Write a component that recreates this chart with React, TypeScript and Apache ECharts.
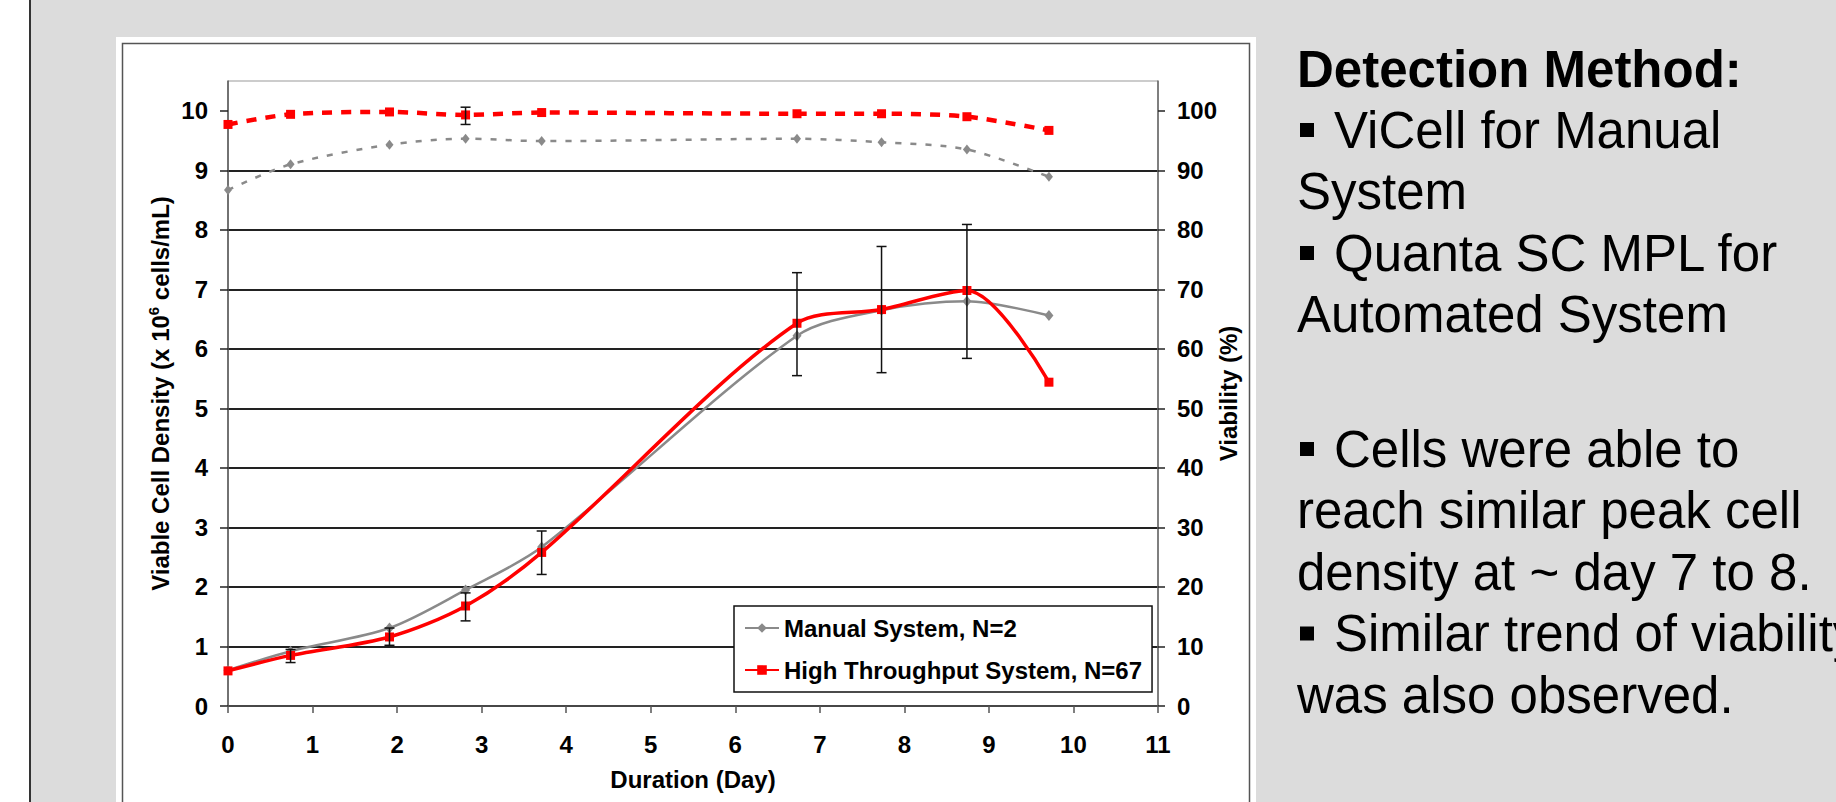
import React, { useEffect, useRef } from 'react';
import * as echarts from 'echarts';

// ---- data ----
const days = [0, 0.74, 1.91, 2.81, 3.71, 6.73, 7.73, 8.74, 9.71];
const manualVCD = [0.6, 0.92, 1.31, 1.95, 2.67, 6.22, 6.65, 6.8, 6.56];
const htVCD = [0.59, 0.85, 1.16, 1.68, 2.58, 6.43, 6.66, 6.98, 5.44];
const htVCDLow = [null, 0.73, 1.02, 1.43, 2.21, 5.55, 5.6, 5.84, null];
const htVCDHigh = [null, 0.95, 1.31, 1.9, 2.94, 7.28, 7.72, 8.09, null];
const manualViability = [86.7, 91.0, 94.3, 95.3, 94.9, 95.3, 94.7, 93.5, 88.9];
const htViability = [97.7, 99.4, 99.8, 99.3, 99.7, 99.5, 99.5, 99.0, 96.7];
const htViabilityLow = [null, null, null, 97.7, null, null, null, null, null];
const htViabilityHigh = [null, null, null, 100.6, null, null, null, null, null];

const vcdTicks = [0, 1, 2, 3, 4, 5, 6, 7, 8, 9, 10];
const viabilityTicks = [0, 10, 20, 30, 40, 50, 60, 70, 80, 90, 100];

const legendNames = ['Manual System, N=2', 'High Throughput System, N=67'];
const xTitle = 'Duration (Day)';
const rightTitle = 'Viability (%)';

const noteLines = [
  'Detection Method:',
  'ViCell for Manual',
  'System',
  'Quanta SC MPL for',
  'Automated System',
  'Cells were able to',
  'reach similar peak cell',
  'density at ~ day 7 to 8.',
  'Similar trend of viability',
  'was also observed.',
];
const noteBold = [true, false, false, false, false, false, false, false, false, false];
const noteBullet = [false, true, false, true, false, true, false, false, true, false];
const noteBaselines = [87, 148, 209.5, 271, 332.5, 467, 528.5, 590, 651.5, 713];

const FONT = '"Liberation Sans", Arial, Helvetica, sans-serif';

function errorData(low: (number | null)[], high: (number | null)[]) {
  const out: number[][] = [];
  days.forEach((d, i) => {
    const lo = low[i];
    const hi = high[i];
    if (lo != null && hi != null) out.push([d, lo, hi]);
  });
  return out;
}

const renderErrorBar = (params: any, api: any) => {
  const x = api.value(0);
  const lo = api.coord([x, api.value(1)]);
  const hi = api.coord([x, api.value(2)]);
  const w = 5;
  const style = { stroke: '#111', lineWidth: 1.5 };
  return {
    type: 'group',
    children: [
      { type: 'line', shape: { x1: lo[0], y1: lo[1], x2: hi[0], y2: hi[1] }, style },
      { type: 'line', shape: { x1: hi[0] - w, y1: hi[1], x2: hi[0] + w, y2: hi[1] }, style },
      { type: 'line', shape: { x1: lo[0] - w, y1: lo[1], x2: lo[0] + w, y2: lo[1] }, style },
    ],
  };
};

export default function App() {
  const ref = useRef<HTMLDivElement>(null);

  useEffect(() => {
    if (!ref.current) return;
    const chart = echarts.init(ref.current, undefined, { renderer: 'svg' });

    const labelStyle = { fontSize: 24, fontWeight: 'bold', color: '#000', fontFamily: FONT };

    const graphics: any[] = [
      { type: 'rect', z: -20, silent: true, shape: { x: 0, y: 0, width: 29, height: 802 }, style: { fill: '#ffffff' } },
      { type: 'rect', z: -19, silent: true, shape: { x: 29, y: 0, width: 2, height: 802 }, style: { fill: '#333333' } },
      { type: 'rect', z: -18, silent: true, shape: { x: 116, y: 37, width: 1140, height: 780 }, style: { fill: '#ffffff' } },
      {
        type: 'rect', z: -17, silent: true,
        shape: { x: 122.5, y: 43.5, width: 1127, height: 800 },
        style: { fill: 'none', stroke: '#555555', lineWidth: 1.5 },
      },
    ];

    noteLines.forEach((t, i) => {
      const base = noteBaselines[i];
      if (noteBullet[i]) {
        graphics.push({
          type: 'rect', z: 10, silent: true,
          shape: { x: 1300, y: base - 25, width: 14, height: 14 },
          style: { fill: '#000' },
        });
      }
      graphics.push({
        type: 'text', z: 10, silent: true,
        x: noteBullet[i] ? 1334 : 1297,
        y: base - 18,
        style: {
          text: t,
          fill: '#000',
          fontSize: 51,
          fontWeight: noteBold[i] ? 'bold' : 'normal',
          fontFamily: FONT,
          verticalAlign: 'middle',
          align: 'left',
        },
      });
    });

    const option: any = {
      animation: false,
      backgroundColor: '#dcdcdc',
      grid: {
        left: 228, top: 81, width: 930, height: 625,
        show: true, borderColor: '#999999', borderWidth: 1, backgroundColor: 'transparent',
      },
      legend: {
        data: legendNames,
        orient: 'vertical',
        left: 734,
        top: 606,
        backgroundColor: '#ffffff',
        borderColor: '#111111',
        borderWidth: 1.5,
        borderRadius: 0,
        padding: [10, 10, 10, 10],
        itemGap: 18,
        itemWidth: 34,
        itemHeight: 12,
        selectedMode: false,
        textStyle: { fontSize: 24, fontWeight: 'bold', color: '#000', fontFamily: FONT },
      },
      xAxis: {
        type: 'value', min: 0, max: 11, interval: 1,
        name: xTitle, nameLocation: 'middle', nameGap: 61, nameMoveOverlap: false,
        nameTextStyle: labelStyle,
        axisLine: { show: true, onZero: false, lineStyle: { color: '#555555', width: 1.5 } },
        axisTick: { show: true, inside: false, length: 7, lineStyle: { color: '#555555', width: 1.5 } },
        axisLabel: { ...labelStyle, margin: 26 },
        splitLine: { show: false },
      },
      yAxis: [
        {
          type: 'value', min: 0, max: 10.5, interval: 1, position: 'left',
          name: '{a|Viable Cell Density (x 10}{s|6}{a| cells/mL)}',
          nameLocation: 'middle', nameRotate: 90, nameGap: 54, nameMoveOverlap: false,
          nameTextStyle: {
            rich: {
              a: { fontSize: 24, fontWeight: 'bold', color: '#000', fontFamily: FONT, lineHeight: 28 },
              s: { fontSize: 15, fontWeight: 'bold', color: '#000', fontFamily: FONT, verticalAlign: 'top', lineHeight: 15 },
            },
          },
          axisLine: { show: true, onZero: false, lineStyle: { color: '#555555', width: 1.5 } },
          axisTick: { show: true, inside: false, length: 8, customValues: vcdTicks, lineStyle: { color: '#222222', width: 1.5 } },
          axisLabel: { ...labelStyle, margin: 20, showMaxLabel: false },
          splitLine: { show: true, showMaxLine: false, lineStyle: { color: '#222222', width: 1.8 } },
        },
        {
          type: 'value', min: 0, max: 105, interval: 10, position: 'right',
          name: rightTitle, nameLocation: 'middle', nameRotate: 90, nameGap: 58, nameMoveOverlap: false,
          nameTextStyle: labelStyle,
          axisLine: { show: true, onZero: false, lineStyle: { color: '#666666', width: 1.5 } },
          axisTick: { show: true, inside: false, length: 7, customValues: viabilityTicks, lineStyle: { color: '#222222', width: 1.5 } },
          axisLabel: { ...labelStyle, margin: 19, showMaxLabel: false },
          splitLine: { show: false },
        },
      ],
      series: [
        {
          name: legendNames[0], type: 'line', yAxisIndex: 0, z: 2,
          data: days.map((d, i) => [d, manualVCD[i]]),
          smooth: 0.3, symbol: 'diamond', symbolSize: [9, 11],
          lineStyle: { color: '#8a8a8a', width: 2.5 },
          itemStyle: { color: '#8a8a8a' },
        },
        {
          name: legendNames[1], type: 'line', yAxisIndex: 0, z: 3,
          data: days.map((d, i) => [d, htVCD[i]]),
          smooth: 0.3, symbol: 'rect', symbolSize: 9,
          lineStyle: { color: '#ff0000', width: 3.5 },
          itemStyle: { color: '#ff0000' },
        },
        {
          name: 'Manual Viability', type: 'line', yAxisIndex: 1, z: 2,
          data: days.map((d, i) => [d, manualViability[i]]),
          smooth: 0.3, symbol: 'diamond', symbolSize: [8, 10],
          lineStyle: { color: '#8a8a8a', width: 2.5, type: [6, 9] },
          itemStyle: { color: '#8a8a8a' },
        },
        {
          name: 'High Throughput Viability', type: 'line', yAxisIndex: 1, z: 3,
          data: days.map((d, i) => [d, htViability[i]]),
          smooth: 0.3, symbol: 'rect', symbolSize: 9,
          lineStyle: { color: '#ff0000', width: 4.5, type: [10, 9] },
          itemStyle: { color: '#ff0000' },
        },
        {
          name: 'VCD SD', type: 'custom', yAxisIndex: 0, z: 5,
          renderItem: renderErrorBar,
          encode: { x: 0, y: [1, 2] },
          data: errorData(htVCDLow, htVCDHigh),
          silent: true,
        },
        {
          name: 'Viability SD', type: 'custom', yAxisIndex: 1, z: 5,
          renderItem: renderErrorBar,
          encode: { x: 0, y: [1, 2] },
          data: errorData(htViabilityLow, htViabilityHigh),
          silent: true,
        },
      ],
      graphic: graphics,
    };

    chart.setOption(option);
    return () => chart.dispose();
  }, []);

  return (
    <div
      ref={ref}
      style={{ position: 'absolute', left: 0, top: 0, width: 1836, height: 802 }}
    />
  );
}
